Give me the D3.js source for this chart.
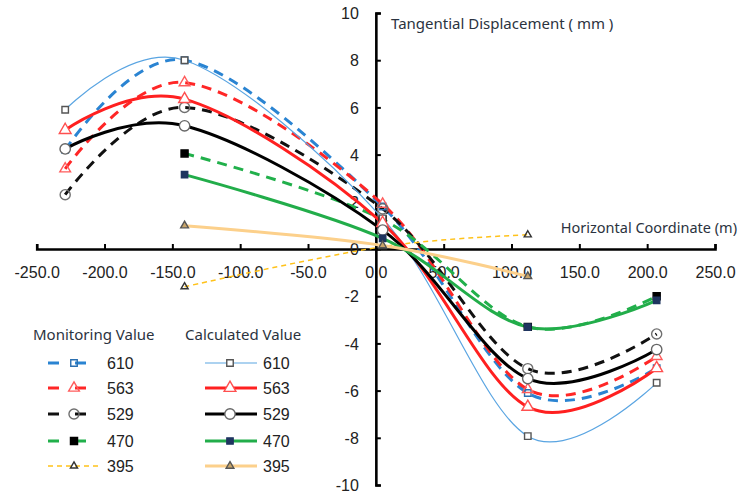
<!DOCTYPE html>
<html>
<head>
<meta charset="utf-8">
<script src="https://cdn.jsdelivr.net/npm/d3@7/dist/d3.min.js"></script>
<style>
  html, body { margin: 0; padding: 0; background: #fff; }
  svg { display: block; }
  .tick text { font-family: "Liberation Sans", Arial, sans-serif; font-size: 16px; fill: #222; }
  .title { font-family: "Noto Sans", "Open Sans", sans-serif; font-size: 15px; fill: #2b3340; }
  .legend-num { font-family: "Liberation Sans", Arial, sans-serif; font-size: 16px; fill: #222; }
</style>
</head>
<body>
<svg id="chart" width="740" height="494"></svg>
<script>
// Horizontal positions of the measuring points (m)
const xPositions = [-229, -141, 5, 112, 207];

// Monitoring values, tangential displacement (mm)
const mon610 = [4.2, 8.0, 1.8, -6.1, -5.05];
const mon563 = [3.4, 7.05, 1.9, -5.95, -4.55];
const mon529 = [2.3, 6.0, 1.7, -5.07, -3.6];
const mon470 = [null, 4.05, 1.25, -3.3, -2.0];
const mon395 = [null, -1.6, 0.1, 0.6, null];

// Calculated values, tangential displacement (mm)
const calc610 = [5.9, 8.0, 1.3, -7.93, -5.67];
const calc563 = [5.04, 6.35, 1.1, -6.69, -5.05];
const calc529 = [4.24, 5.22, 0.8, -5.49, -4.26];
const calc470 = [null, 3.15, 0.45, -3.31, -2.18];
const calc395 = [null, 0.99, 0.15, -1.16, null];

const seriesNames = ["610", "563", "529", "470", "395"];
const xTicks = [-250, -200, -150, -100, -50, 0, 50, 100, 150, 200, 250];
const yTicks = [-10, -8, -6, -4, -2, 0, 2, 4, 6, 8, 10];

const yTitle = "Tangential Displacement ( mm )";
const xTitle = "Horizontal Coordinate (m)";
const monTitle = "Monitoring Value";
const calcTitle = "Calculated Value";

// Styles for each series
const monStyles = [
  { color: "#2a84d2", width: 3, dash: "10,7", symbol: d3.symbolSquare, size: 42, fill: "none", stroke: "#2a6fb0" },
  { color: "#ff2626", width: 3, dash: "10,7", symbol: d3.symbolTriangle, size: 50, fill: "none", stroke: "#ff5c5c" },
  { color: "#111111", width: 3, dash: "10,7", symbol: d3.symbolCircle, size: 80, fill: "none", stroke: "#6f6f6f" },
  { color: "#21b04b", width: 3, dash: "10,7", symbol: d3.symbolSquare, size: 50, fill: "#000", stroke: "#000" },
  { color: "#ffc21a", width: 1.5, dash: "5,4", symbol: d3.symbolTriangle, size: 22, fill: "none", stroke: "#333" }
];
const calcStyles = [
  { color: "#5aa5e2", width: 1.2, symbol: d3.symbolSquare, size: 42, fill: "#fff", stroke: "#555" },
  { color: "#ff2020", width: 3, symbol: d3.symbolTriangle, size: 60, fill: "#fff", stroke: "#ff5050" },
  { color: "#000000", width: 3, symbol: d3.symbolCircle, size: 85, fill: "#fff", stroke: "#666" },
  { color: "#22ad4a", width: 3, symbol: d3.symbolSquare, size: 40, fill: "#1f3560", stroke: "#1f3560" },
  { color: "#fcd08b", width: 3, symbol: d3.symbolTriangle, size: 26, fill: "#c8a56a", stroke: "#555" }
];

const monSeries = [mon610, mon563, mon529, mon470, mon395];
const calcSeries = [calc610, calc563, calc529, calc470, calc395];

const svg = d3.select("#chart");

const x = d3.scaleLinear().domain([-250, 250]).range([36.7, 715]);
const y = d3.scaleLinear().domain([-10, 10]).range([485, 13]);

// Axes crossing at the origin
const xAxis = d3.axisBottom(x)
  .tickValues(xTicks)
  .tickFormat(d => d.toFixed(1))
  .tickSizeInner(-5)
  .tickSizeOuter(-5)
  .tickPadding(18);

const yAxis = d3.axisLeft(y)
  .tickValues(yTicks)
  .tickFormat(d => String(d))
  .tickSizeInner(-5)
  .tickSizeOuter(-5)
  .tickPadding(17);

const gx = svg.append("g").attr("transform", `translate(0,${y(0)})`).call(xAxis);
const gy = svg.append("g").attr("transform", `translate(${x(0)},0)`).call(yAxis);

[gx, gy].forEach(g => {
  g.select(".domain").attr("stroke", "#000").attr("stroke-width", 2.6);
  g.selectAll(".tick line").attr("stroke", "#000").attr("stroke-width", 2);
});
gy.selectAll(".tick text").attr("dy", "0.36em");

// Curves
const line = d3.line()
  .defined(d => d.v !== null)
  .x(d => x(d.x))
  .y(d => y(d.v))
  .curve(d3.curveCardinal.tension(0));

function pts(values) {
  return values.map((v, i) => ({ x: xPositions[i], v: v })).filter(d => d.v !== null);
}

const plot = svg.append("g");

monSeries.forEach((vals, i) => {
  const s = monStyles[i];
  plot.append("path")
    .attr("d", line(pts(vals)))
    .attr("fill", "none")
    .attr("stroke", s.color)
    .attr("stroke-width", s.width)
    .attr("stroke-dasharray", s.dash);
});

calcSeries.forEach((vals, i) => {
  const s = calcStyles[i];
  plot.append("path")
    .attr("d", line(pts(vals)))
    .attr("fill", "none")
    .attr("stroke", s.color)
    .attr("stroke-width", s.width);
});

function drawMarkers(vals, s) {
  plot.append("g").selectAll("path")
    .data(pts(vals))
    .join("path")
    .attr("transform", d => `translate(${x(d.x)},${y(d.v)})`)
    .attr("d", d3.symbol(s.symbol, s.size)())
    .attr("fill", s.fill)
    .attr("stroke", s.stroke)
    .attr("stroke-width", 1.4);
}
monSeries.forEach((vals, i) => drawMarkers(vals, monStyles[i]));
calcSeries.forEach((vals, i) => drawMarkers(vals, calcStyles[i]));

// Axis titles
svg.append("text").attr("class", "title").attr("x", 391).attr("y", 29).text(yTitle);
svg.append("text").attr("class", "title")
  .attr("x", 737).attr("y", 233)
  .attr("text-anchor", "end")
  .style("font-size", "14.5px")
  .text(xTitle);

// Legend
const legend = svg.append("g");
legend.append("text").attr("class", "title").attr("x", 33).attr("y", 340).text(monTitle);
legend.append("text").attr("class", "title").attr("x", 185).attr("y", 340).text(calcTitle);

const rowY = [363, 388, 414, 441, 466];
seriesNames.forEach((name, i) => {
  const ry = rowY[i];
  const ms = monStyles[i];
  legend.append("line")
    .attr("x1", 48).attr("x2", 100).attr("y1", ry).attr("y2", ry)
    .attr("stroke", ms.color).attr("stroke-width", ms.width)
    .attr("stroke-dasharray", i === 4 ? "5,4" : "11,16");
  legend.append("path")
    .attr("transform", `translate(74,${ry})`)
    .attr("d", d3.symbol(ms.symbol, ms.size)())
    .attr("fill", ms.fill).attr("stroke", ms.stroke).attr("stroke-width", 1.4);
  legend.append("text").attr("class", "legend-num").attr("x", 107).attr("y", ry + 6).text(name);

  const cs = calcStyles[i];
  legend.append("line")
    .attr("x1", 205).attr("x2", 257).attr("y1", ry).attr("y2", ry)
    .attr("stroke", cs.color).attr("stroke-width", cs.width);
  legend.append("path")
    .attr("transform", `translate(230,${ry})`)
    .attr("d", d3.symbol(cs.symbol, cs.size)())
    .attr("fill", cs.fill).attr("stroke", cs.stroke).attr("stroke-width", 1.4);
  legend.append("text").attr("class", "legend-num").attr("x", 263).attr("y", ry + 6).text(name);
});
</script>
</body>
</html>
